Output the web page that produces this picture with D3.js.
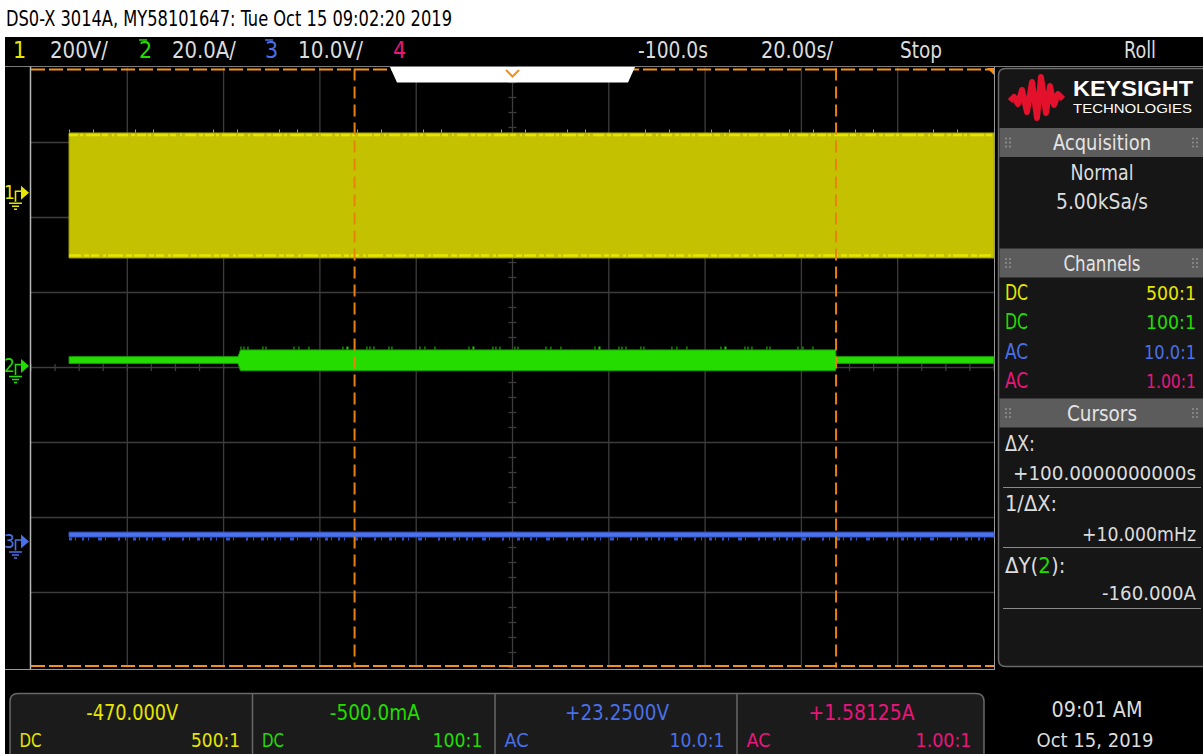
<!DOCTYPE html>
<html><head><meta charset="utf-8">
<script src="https://cdn.jsdelivr.net/npm/d3@7"></script>
<style>
html,body{margin:0;padding:0;background:#fff;}
svg{display:block;}
text{font-family:'Liberation Sans Narrow','DejaVu Sans Condensed','Arial Narrow',sans-serif;}
</style></head><body>
<svg id="c" width="1203" height="754"></svg>
<script>
// ---------------- data ----------------
const title = "DS0-X 3014A, MY58101647: Tue Oct 15 09:02:20 2019";
const timeDomain = [-200, 0];          // s, delay -100 s, 20 s/div
const secPerDiv = 20;
const channelIds = ["1", "2", "3", "4"];
const channelScaleLabels = ["200V/", "20.0A/", "10.0V/", ""];
const channelColors = ["#e6e600", "#22dd00", "#4a70e8", "#e8167a"];
const channelPerDiv = [200, 20, 10, 1];
const channelGroundDiv = [2.33, 0.02, -2.32, 0];
const couplings = ["DC", "DC", "AC", "AC"];
const probes = ["500:1", "100:1", "10.0:1", "1.00:1"];
const measurements = ["-470.000V", "-500.0mA", "+23.2500V", "+1.58125A"];
const timebaseLabels = ["-100.0s", "20.00s/", "Stop", "Roll"];
const acquisitionLabels = ["Normal", "5.00kSa/s"];

// channel 1 (V) envelope
const ch1Time = [-192.1, 0];
const ch1Max = [159.5, 159.5];
const ch1Min = [-173.9, -173.9];
// channel 2 (A) envelope
const ch2Time = [-192.1, -157.0, -156.5, -32.9, -32.8, 0];
const ch2Max = [2.5, 2.5, 4.3, 4.3, 2.5, 2.5];
const ch2Min = [0.7, 0.7, -1.25, -1.25, 0.7, 0.7];
// channel 3 (V) envelope
const ch3Time = [-192.1, 0];
const ch3Max = [1.25, 1.25];
const ch3Min = [0.6, 0.6];

// cursors
const cursorX = [-132.8, -32.8];      // s
const cursorY = [80, -80];            // A on channel 2
const cursorTexts = ["ΔX:", "+100.0000000000s", "1/ΔX:", "+10.000mHz", "-160.000A"];
const clockTexts = ["09:01 AM", "Oct 15, 2019"];

// ---------------- layout ----------------
const svg = d3.select("#c");
const P = {x0: 31, x1: 994, y0: 67.5, y1: 667.5};
const x = d3.scaleLinear().domain(timeDomain).range([P.x0, P.x1]);
const yDiv = d3.scaleLinear().domain([-4, 4]).range([P.y1, P.y0]);
const yCh = i => v => yDiv(channelGroundDiv[i] + v / channelPerDiv[i]);
const TXT = "#dcdcdc";

function txt(g, x, y, s, o = {}) {
  const t = g.append("text").attr("x", x).attr("y", y).text(s)
    .attr("font-size", o.size || 22).attr("fill", o.fill || TXT)
    .attr("text-anchor", o.anchor || "start")
    .attr("dominant-baseline", "central");
  if (o.len) t.attr("textLength", o.len).attr("lengthAdjust", "spacingAndGlyphs");
  if (o.weight) t.attr("font-weight", o.weight);
  if (o.family) t.style("font-family", o.family);
  return t;
}

// background
svg.append("rect").attr("width", 1203).attr("height", 754).attr("fill", "#fff");
svg.append("rect").attr("x", 5).attr("y", 37).attr("width", 1198).attr("height", 717).attr("fill", "#000");

// title
txt(svg, 6, 18, title, {fill: "#000", size: 22, len: 446});

// status bar
const sb = svg.append("g");
const sbY = 50;
const chNumX = [13, 139, 265, 393];
const chScaleX = [[50, 58], [172, 64], [298, 65]];
channelIds.forEach((c, i) => {
  txt(sb, chNumX[i], sbY, c, {fill: channelColors[i], size: 23});
  if (i === 1 || i === 2) sb.append("line").attr("x1", chNumX[i]).attr("x2", chNumX[i] + 8)
    .attr("y1", 40).attr("y2", 40).attr("stroke", channelColors[i]).attr("stroke-width", 1.5);
  if (chScaleX[i]) txt(sb, chScaleX[i][0], sbY, channelScaleLabels[i], {size: 23, len: chScaleX[i][1]});
});
const tbX = [[638, 70], [761, 72], [900, 42], [1124, 32]];
timebaseLabels.forEach((s, i) => txt(sb, tbX[i][0], sbY, s, {size: 23, len: tbX[i][1]}));
svg.append("line").attr("x1", 5).attr("x2", 1203).attr("y1", 66.5).attr("y2", 66.5)
  .attr("stroke", "#7a7a7a").attr("stroke-width", 1);

// plot grid
const grid = svg.append("g");
const vDivs = d3.range(timeDomain[0] + secPerDiv, timeDomain[1], secPerDiv);
grid.selectAll("line.v").data(vDivs).join("line")
  .attr("x1", d => x(d)).attr("x2", d => x(d)).attr("y1", P.y0).attr("y2", P.y1)
  .attr("stroke", "#3d3d3d").attr("stroke-width", 1.3);
const hDivs = d3.range(-3, 4);
grid.selectAll("line.h").data(hDivs).join("line")
  .attr("x1", P.x0).attr("x2", P.x1).attr("y1", d => yDiv(d)).attr("y2", d => yDiv(d))
  .attr("stroke", "#3d3d3d").attr("stroke-width", 1.3);
// minor ticks on centre axes
const tc = (timeDomain[0] + timeDomain[1]) / 2;
const vMinor = d3.range(-4, 4.001, 0.2);
grid.selectAll("line.vm").data(vMinor).join("line")
  .attr("x1", x(tc) - 4).attr("x2", x(tc) + 4).attr("y1", d => yDiv(d)).attr("y2", d => yDiv(d))
  .attr("stroke", "#3d3d3d").attr("stroke-width", 1.3);
const hMinor = d3.range(timeDomain[0], timeDomain[1] + 0.01, secPerDiv / 4);
grid.selectAll("line.hm").data(hMinor).join("line")
  .attr("x1", d => x(d)).attr("x2", d => x(d)).attr("y1", yDiv(0) - 3.5).attr("y2", yDiv(0) + 3.5)
  .attr("stroke", "#3d3d3d").attr("stroke-width", 1.3);

// frame
svg.append("line").attr("x1", 30.5).attr("x2", 30.5).attr("y1", 66.5).attr("y2", 669.5)
  .attr("stroke", "#b8b8b8").attr("stroke-width", 1.5);
svg.append("line").attr("x1", 5).attr("x2", 995).attr("y1", 669.5).attr("y2", 669.5)
  .attr("stroke", "#9a9a9a").attr("stroke-width", 1.2);
svg.append("line").attr("x1", 994.5).attr("x2", 994.5).attr("y1", 66.5).attr("y2", 669.5)
  .attr("stroke", "#9a9a9a").attr("stroke-width", 1);

// ---- traces ----
function envelope(times, mx, mn, i) {
  const yc = yCh(i);
  return times.map((t, k) => ({t, hi: yc(mx[k]), lo: yc(mn[k])}));
}
const area = d3.area().x(d => x(d.t)).y0(d => d.lo).y1(d => d.hi);
const topLine = d3.line().x(d => x(d.t)).y(d => d.hi);
const botLine = d3.line().x(d => x(d.t)).y(d => d.lo);

const tr = svg.append("g");
// channel 1
const e1 = envelope(ch1Time, ch1Max, ch1Min, 0);
tr.append("path").attr("d", area(e1)).attr("fill", "#c4c200").attr("stroke", "#a6a400").attr("stroke-width", 1);
tr.append("path").attr("d", topLine(e1)).attr("transform", "translate(0,2)").attr("fill", "none")
  .attr("stroke", "#e6e400").attr("stroke-width", 2.5).attr("stroke-dasharray", "9,2,3,3,14,2,6,4,2,3,11,3,4,2");
tr.append("path").attr("d", botLine(e1)).attr("transform", "translate(0,-2.5)").attr("fill", "none")
  .attr("stroke", "#e6e400").attr("stroke-width", 2.5).attr("stroke-dasharray", "12,3,5,2,8,4,3,2,15,3,6,2");
tr.append("path").attr("d", topLine(e1)).attr("transform", "translate(0,-2)").attr("fill", "none")
  .attr("stroke", "#b8b600").attr("stroke-width", 3).attr("stroke-dasharray", "1,23,1,41,1,17,1,59");
// channel 2
const e2 = envelope(ch2Time, ch2Max, ch2Min, 1);
tr.append("path").attr("d", area(e2)).attr("fill", "#24dc00").attr("stroke", "#189e00").attr("stroke-width", 1);
const e2w = e2.slice(2, 4);
tr.append("path").attr("d", topLine(e2w)).attr("transform", "translate(0,-2)").attr("fill", "none")
  .attr("stroke", "#22c800").attr("stroke-width", 3).attr("stroke-dasharray", "1,2,1,3,1,14,1,2,1,27,1,4,1,9,1,33,1,3,2,18");
// channel 3
const e3 = envelope(ch3Time, ch3Max, ch3Min, 2);
tr.append("path").attr("d", area(e3)).attr("fill", "#4c72ec").attr("stroke", "#3556c8").attr("stroke-width", 1);
tr.append("path").attr("d", botLine(e3)).attr("transform", "translate(0,2)").attr("fill", "none")
  .attr("stroke", "#3456c4").attr("stroke-width", 3).attr("stroke-dasharray", "3,3,1,6,2,4,1,9,4,3,1,12,2,5,1,7");

// ---- cursors ----
const cur = svg.append("g");
const orange = "#f4901c";
cur.selectAll("line.cx").data(cursorX).join("line")
  .attr("x1", d => x(d)).attr("x2", d => x(d)).attr("y1", P.y0 + 1).attr("y2", P.y1)
  .attr("stroke", "#e8820c").attr("stroke-width", 2).attr("stroke-dasharray", "12,6");
cur.selectAll("line.cy").data(cursorY).join("line")
  .attr("x1", P.x0).attr("x2", P.x1)
  .attr("y1", d => Math.min(P.y1 - 1.5, Math.max(P.y0 + 2, yCh(1)(d))))
  .attr("y2", d => Math.min(P.y1 - 1.5, Math.max(P.y0 + 2, yCh(1)(d))))
  .attr("stroke", orange).attr("stroke-width", 2).attr("stroke-dasharray", "14,4");
// overview bar + trigger marker
svg.append("path").attr("d", "M390,67 L635,67 L628,82.5 L397,82.5 Z").attr("fill", "#fff");
svg.append("path").attr("d", `M${x(tc) - 6.5},70 L${x(tc)},76.5 L${x(tc) + 6.5},70`)
  .attr("fill", "none").attr("stroke", orange).attr("stroke-width", 2);
svg.append("path").attr("d", "M987,68 L994,68 L994,75 Z").attr("fill", orange);

// ---- channel ground markers ----
const mk = svg.append("g");
[0, 1, 2].forEach(i => {
  const g = yCh(i)(0), c = channelColors[i];
  const m = mk.append("g");
  txt(m, 4, g - 1, channelIds[i], {fill: c, size: 19});
  m.append("path").attr("d", `M15.5,${g + 9} V${g - 1.5} H22`).attr("fill", "none").attr("stroke", c).attr("stroke-width", 1.6);
  m.append("path").attr("d", `M21,${g - 7} L29,${g} L21,${g + 7} Z`).attr("fill", c);
  m.append("path").attr("d", `M9,${g + 10.5} H22 M12,${g + 13.5} H19 M14,${g + 16.5} H17`).attr("stroke", c).attr("stroke-width", 1.4);
});

// ---- right panel ----
const rp = svg.append("g");
rp.append("path").attr("d", "M1203,68.5 H1005.5 Q998.5,68.5 998.5,75.5 V659.5 Q998.5,666.5 1005.5,666.5 H1203")
  .attr("fill", "#161616").attr("stroke", "#6a6a6a").attr("stroke-width", 1.5);
// logo
rp.append("path").attr("d", "M1010,101 L1014,97 L1018,104 L1022,90 L1027,112 L1032,82 L1037,118 L1041,77 L1046,113 L1050,86 L1054,105 L1058,94 L1063,99")
  .attr("fill", "none").attr("stroke", "#e4112c").attr("stroke-width", 6).attr("stroke-linejoin", "round");
txt(rp, 1073, 88.5, "KEYSIGHT", {size: 22, weight: "bold", fill: "#fff", len: 120, family: "'Liberation Sans', Arial, sans-serif"});
txt(rp, 1073, 109, "TECHNOLOGIES", {size: 12.5, fill: "#fff", len: 119, family: "'Liberation Sans', Arial, sans-serif"});
function header(y, label, len) {
  rp.append("rect").attr("x", 999.5).attr("y", y).attr("width", 203.5).attr("height", 29).attr("fill", "#5c5c5c");
  txt(rp, 1102, y + 14.5, label, {anchor: "middle", size: 22, fill: "#e4e4e4", len});
  [1006, 1010, 1193, 1197].forEach(gx => [-4, 0, 4].forEach(dy =>
    rp.append("rect").attr("x", gx - 0.8).attr("y", y + 14.5 + dy - 0.8).attr("width", 1.6).attr("height", 1.6).attr("fill", "#9a9a9a")));
}
header(128, "Acquisition", 98);
txt(rp, 1102, 172, acquisitionLabels[0], {anchor: "middle", size: 22, len: 63});
txt(rp, 1102, 201, acquisitionLabels[1], {anchor: "middle", size: 22, len: 92});
header(248.5, "Channels", 77);
const rowY = [293, 322, 352, 381];
const probeLen = [50, 50, 52, 50];
couplings.forEach((c, i) => {
  txt(rp, 1005, rowY[i], c, {fill: channelColors[i], size: 21, len: 23});
  txt(rp, 1196, rowY[i], probes[i], {fill: channelColors[i], size: 20, anchor: "end", len: probeLen[i]});
});
header(398.5, "Cursors", 70);
txt(rp, 1005, 443, cursorTexts[0], {size: 22, len: 30});
txt(rp, 1196, 473, cursorTexts[1], {size: 20, anchor: "end", len: 183});
txt(rp, 1005, 503, cursorTexts[2], {size: 22, len: 52});
txt(rp, 1196, 534, cursorTexts[3], {size: 19, anchor: "end", len: 114});
const dy = txt(rp, 1005, 565, "", {size: 22});
dy.append("tspan").text("ΔY(");
dy.append("tspan").text(channelIds[1]).attr("fill", channelColors[1]);
dy.append("tspan").text("):");
txt(rp, 1196, 593, cursorTexts[4], {size: 20, anchor: "end", len: 94});
[487.5, 547.5, 608.5].forEach(ly => rp.append("line").attr("x1", 1003).attr("x2", 1201)
  .attr("y1", ly).attr("y2", ly).attr("stroke", "#8a8a8a").attr("stroke-width", 1.2));

// ---- bottom measurement boxes ----
const bx = [10, 252.5, 495, 737, 984];
const bt = 693.5, r = 8;
const bottom = svg.append("g");
bottom.append("path").attr("d", `M${bx[0]},754 V${bt + r} Q${bx[0]},${bt} ${bx[0] + r},${bt} H${bx[4] - r} Q${bx[4]},${bt} ${bx[4]},${bt + r} V754`)
  .attr("fill", "#1b1b1b").attr("stroke", "#686868").attr("stroke-width", 1.5);
bx.slice(1, 4).forEach(sx => bottom.append("line").attr("x1", sx).attr("x2", sx).attr("y1", bt).attr("y2", 754)
  .attr("stroke", "#686868").attr("stroke-width", 1.5));
const measLen = [92, 90, 104, 106];
const coupLen = [22, 22, 24, 24];
const probeLenB = [49, 50, 55, 56];
measurements.forEach((m, i) => {
  const c = channelColors[i];
  txt(bottom, (bx[i] + bx[i + 1]) / 2 + 1, 712, m, {anchor: "middle", fill: c, size: 22, len: measLen[i]});
  txt(bottom, bx[i] + 9.5, 740, couplings[i], {fill: c, size: 20, len: coupLen[i]});
  txt(bottom, bx[i + 1] - 12.5, 740, probes[i], {anchor: "end", fill: c, size: 20, len: probeLenB[i]});
});
txt(bottom, 1097, 709, clockTexts[0], {anchor: "middle", size: 22, len: 91});
txt(bottom, 1095, 740, clockTexts[1], {anchor: "middle", size: 20, len: 117});
</script>
</body></html>
